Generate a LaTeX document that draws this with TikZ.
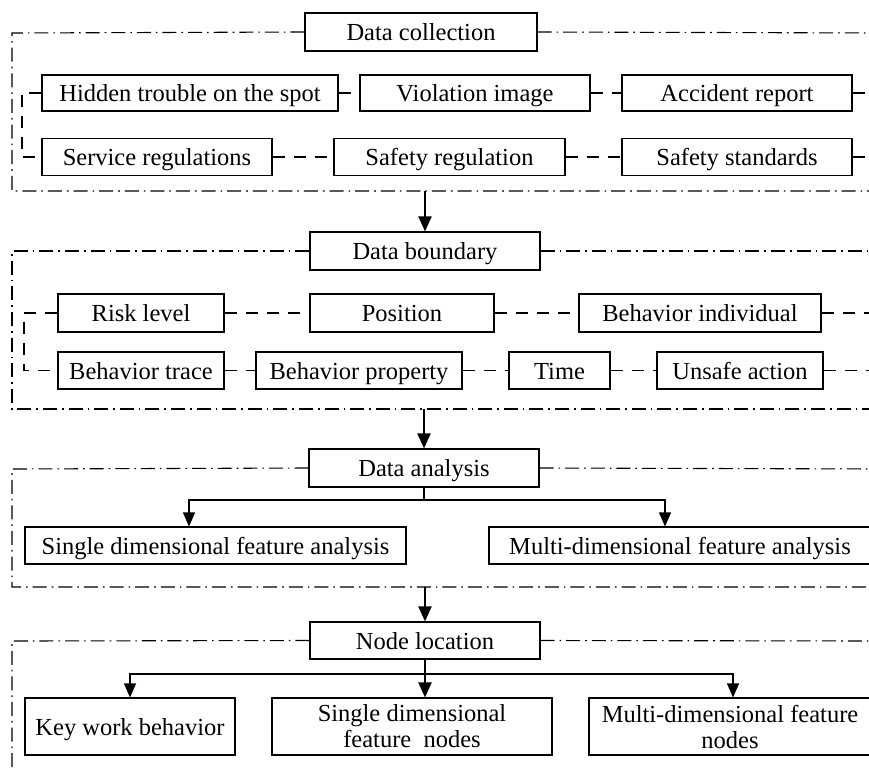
\documentclass[tikz,border=0pt]{standalone}
\usepackage{fontspec}
\setmainfont{Liberation Serif}
\usetikzlibrary{arrows.meta}
\begin{document}
\begin{tikzpicture}[x=1pt, y=-1pt,
  box/.style={draw, line width=1.1pt, inner sep=0pt, align=center,
    font=\fontsize{24.5}{28}\selectfont},
  one/.style={box, text height=22pt, text depth=4.6pt},
  frame/.style={line width=1.1pt, dash pattern=on 14pt off 5pt on 1.6pt off 5pt},
  link/.style={line width=1.8pt, dash pattern=on 12pt off 9pt},
  flow/.style={line width=2pt, -{Triangle[length=15pt,width=13pt]}},
  trunk/.style={line width=1.3pt},
  branch/.style={line width=1.3pt, -{Triangle[length=14pt,width=12pt]}}]
\useasboundingbox (0,0) rectangle (869,771);

% ---------- Data collection ----------
\node[one, minimum width=232, minimum height=38] (dc) at (421,32) {Data collection};
\node[one, minimum width=296, minimum height=36] (ht) at (190,93) {Hidden trouble on the spot};
\node[one, minimum width=230, minimum height=36] (vi) at (475,93) {Violation image};
\node[one, minimum width=230, minimum height=36] (ar) at (737,93) {Accident report};
\node[one, minimum width=230, minimum height=37] (sr) at (157,157) {Service regulations};
\node[one, minimum width=231, minimum height=37] (sg) at (449.5,157) {Safety regulation};
\node[one, minimum width=230, minimum height=37] (ss) at (737,157) {Safety standards};
\coordinate (r1) at (880,93);
\coordinate (r2) at (880,157);
\coordinate (f1a) at (12,33);
\coordinate (f1b) at (12,191);
\coordinate (f1c) at (880,191);
\coordinate (f1d) at (880,33);
\coordinate (b1) at (22,93);
\coordinate (b2) at (22,157);
\draw[frame] (dc.west) -- (f1a) -- (f1b) -- (f1c);
\draw[frame] (dc.east) -- (f1d);
\draw[link] (ht.east) -- (vi.west);
\draw[link] (vi.east) -- (ar.west);
\draw[link] (ar.east) -- (r1);
\draw[link] (sr.east) -- (sg.west);
\draw[link] (sg.east) -- (ss.west);
\draw[link] (ss.east) -- (r2);
\draw[link] (ht.west) -- (b1) -- (b2) -- (sr.west);

% ---------- Data boundary ----------
\node[one, minimum width=230, minimum height=38] (db) at (425,251) {Data boundary};
\coordinate (s1) at (425,191);
\draw[flow] (s1) -- (db.north);
\node[one, minimum width=166, minimum height=38] (rl) at (141,313) {Risk level};
\node[one, minimum width=184, minimum height=38] (po) at (402,313) {Position};
\node[one, minimum width=242, minimum height=38] (bi) at (700,313) {Behavior individual};
\node[one, minimum width=166, minimum height=37] (bt) at (141,370.5) {Behavior trace};
\node[one, minimum width=206, minimum height=37] (bp) at (359,370.5) {Behavior property};
\node[one, minimum width=101, minimum height=37] (tm) at (559.5,370.5) {Time};
\node[one, minimum width=166, minimum height=37] (ua) at (740,370.5) {Unsafe action};
\coordinate (r3) at (880,313);
\coordinate (r4) at (880,370.5);
\coordinate (f2a) at (12,251);
\coordinate (f2b) at (12,409);
\coordinate (f2c) at (880,409);
\coordinate (f2d) at (880,251);
\coordinate (b3) at (24,313);
\coordinate (b4) at (24,370.5);
\draw[frame] (db.west) -- (f2a) -- (f2b) -- (f2c);
\draw[frame] (db.east) -- (f2d);
\draw[link] (rl.east) -- (po.west);
\draw[link] (po.east) -- (bi.west);
\draw[link] (bi.east) -- (r3);
\draw[link] (bt.east) -- (bp.west);
\draw[link] (bp.east) -- (tm.west);
\draw[link] (tm.east) -- (ua.west);
\draw[link] (ua.east) -- (r4);
\draw[link] (rl.west) -- (b3) -- (b4) -- (bt.west);

% ---------- Data analysis ----------
\node[one, minimum width=230, minimum height=38] (da) at (424,468) {Data analysis};
\coordinate (s2) at (424,409);
\draw[flow] (s2) -- (da.north);
\node[one, minimum width=381, minimum height=37] (sda) at (215.5,545.5) {Single dimensional feature analysis};
\node[one, minimum width=382, minimum height=37] (mda) at (680,545.5) {Multi-dimensional feature analysis};
\coordinate (j3) at (424,500);
\coordinate (t3l) at (189,500);
\coordinate (t3r) at (665,500);
\coordinate (f3a) at (12,469);
\coordinate (f3b) at (12,587);
\coordinate (f3c) at (880,587);
\coordinate (f3d) at (880,469);
\draw[frame] (da.west) -- (f3a) -- (f3b) -- (f3c);
\draw[frame] (da.east) -- (f3d);
\draw[trunk] (da.south) -- (j3);
\draw[branch] (j3) -- (t3l) -- (t3l |- sda.north);
\draw[branch] (j3) -- (t3r) -- (t3r |- mda.north);

% ---------- Node location ----------
\node[one, minimum width=230, minimum height=37] (nl) at (425,640.5) {Node location};
\coordinate (s3) at (425,587);
\draw[flow] (s3) -- (nl.north);
\node[one, minimum width=210, minimum height=57] (kw) at (130,726.5) {Key work behavior};
\node[box, minimum width=280, minimum height=57] (sdn) at (412,726.5) {Single dimensional\\[-2pt]feature\ \ nodes};
\node[box, minimum width=282, minimum height=57] (mdn) at (730,726.5) {Multi-dimensional feature\\[-2pt]nodes};
\coordinate (j4) at (425,674);
\coordinate (t4l) at (130,674);
\coordinate (t4r) at (733,674);
\coordinate (f4a) at (12,641);
\coordinate (f4b) at (12,785);
\coordinate (f4d) at (880,641);
\draw[frame] (nl.west) -- (f4a) -- (f4b);
\draw[frame] (nl.east) -- (f4d);
\draw[flow] (nl.south) -- (j4 |- sdn.north);
\draw[branch] (j4) -- (t4l) -- (kw.north);
\draw[branch] (j4) -- (t4r) -- (t4r |- mdn.north);
\end{tikzpicture}
\end{document}
